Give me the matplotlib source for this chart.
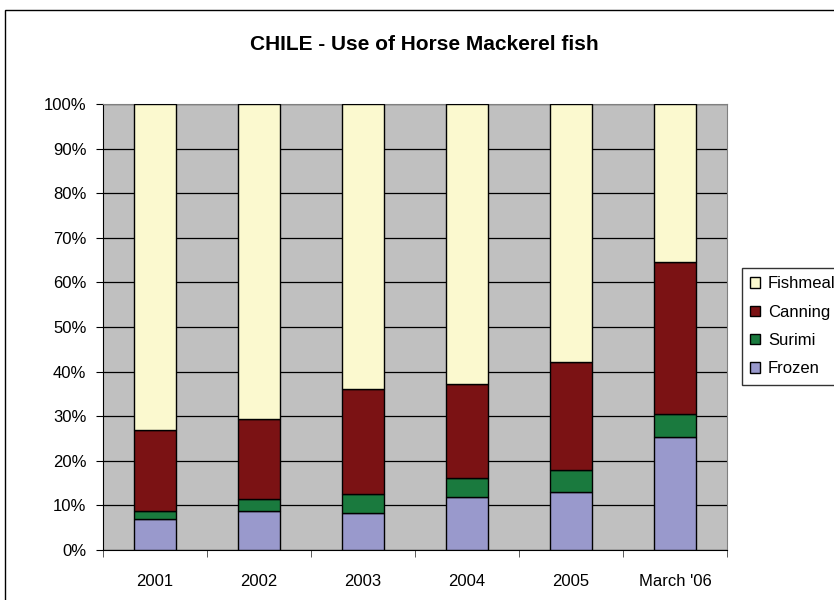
import numpy as np
import matplotlib.pyplot as plt
from matplotlib.patches import Patch, Rectangle
from matplotlib.ticker import FuncFormatter, MultipleLocator

plt.rcParams['font.family'] = ['Liberation Sans', 'DejaVu Sans']

years = ['2001', '2002', '2003', '2004', '2005', "March '06"]
frozen = [6.9, 8.8, 8.2, 11.8, 13.1, 25.4]
surimi = [1.9, 2.7, 4.3, 4.3, 4.9, 5.2]
canning = [18.2, 17.9, 23.6, 21.2, 24.2, 33.9]
fishmeal = [73.0, 70.6, 63.9, 62.7, 57.8, 35.5]

series = [('Frozen', frozen, '#9999cc'),
          ('Surimi', surimi, '#1a7a3e'),
          ('Canning', canning, '#7b1214'),
          ('Fishmeal', fishmeal, '#fbf9cf')]

fig = plt.figure(figsize=(8.34, 6.0), dpi=100)
# outer chart frame
fig.patches.append(Rectangle((5 / 834, -0.1), 1.2, 1 - 10 / 600 + 0.1,
                             transform=fig.transFigure, fill=False,
                             edgecolor='black', linewidth=1.0))

ax = fig.add_axes([103 / 834, 50 / 600, 624 / 834, 446 / 600])
ax.set_facecolor('#c0c0c0')

x = np.arange(len(years))
bottom = np.zeros(len(years))
for name, vals, col in series:
    ax.bar(x, vals, width=0.41, bottom=bottom, color=col,
           edgecolor='black', linewidth=1.0, zorder=3)
    bottom += np.array(vals)

ax.set_xlim(-0.5, len(years) - 0.5)
ax.set_ylim(0, 100)
ax.yaxis.set_major_locator(MultipleLocator(10))
ax.yaxis.set_major_formatter(FuncFormatter(lambda v, p: '%d%%' % v))
ax.grid(axis='y', color='black', linewidth=0.9, zorder=1)
ax.set_axisbelow(True)

ax.set_xticks(x)
ax.set_xticklabels(years)
ax.set_xticks(np.arange(-0.5, len(years)), minor=True)
ax.tick_params(axis='x', which='major', length=0, pad=17, labelsize=12)
ax.tick_params(axis='x', which='minor', length=5, color='#404040')
ax.tick_params(axis='y', length=5, pad=7, labelsize=12)

for s in ['top', 'right']:
    ax.spines[s].set_color('#808080')
for s in ['left', 'bottom']:
    ax.spines[s].set_color('black')

fig.text(424 / 834, 1 - 45 / 600, 'CHILE - Use of Horse Mackerel fish',
         ha='center', va='center', fontsize=15, fontweight='bold')

handles = [Patch(facecolor=col, edgecolor='black', label=name)
           for name, vals, col in reversed(series)]
leg = fig.legend(handles=handles, loc='upper left',
                 bbox_to_anchor=(742 / 834, 1 - 268 / 600),
                 fontsize=12, frameon=True, fancybox=False,
                 handlelength=0.6, handleheight=0.6, handletextpad=0.45,
                 borderpad=0.5, labelspacing=0.8, borderaxespad=0)
leg.get_frame().set_edgecolor('black')
leg.get_frame().set_linewidth(1.0)

fig.savefig('out.png', dpi=100)
